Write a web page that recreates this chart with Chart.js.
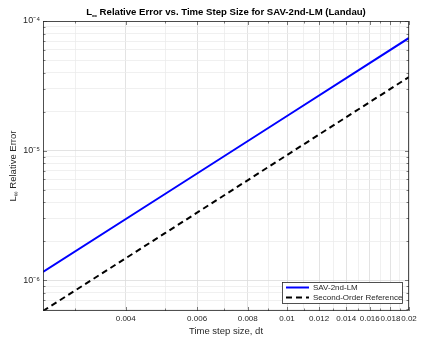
<!DOCTYPE html>
<html>
<head>
<meta charset="utf-8">
<script src="https://cdn.jsdelivr.net/npm/chart.js@4"></script>
<style>
  html, body { margin: 0; padding: 0; background: #fff; }
  #wrap { width: 423px; height: 339px; }
</style>
</head>
<body>
<div id="wrap"><canvas id="errChart"></canvas></div>
<script>
// time step sizes and errors
const dtValues = [0.0025, 0.005, 0.01, 0.02];
const savErrors = [1.16e-6, 4.63e-6, 1.85e-5, 7.4e-5];
const refErrors = [5.8e-7, 2.31e-6, 9.25e-6, 3.7e-5];

const seriesNames = ['SAV-2nd-LM', 'Second-Order Reference'];

// tick labels
const xMajorTicks = [0.004, 0.006, 0.008, 0.01, 0.012, 0.014, 0.016, 0.018, 0.02];
const xTickLabels = ['0.004', '0.006', '0.008', '0.01', '0.012', '0.014', '0.016', '0.018', '0.02'];
const xMinorTicks = [0.003, 0.005, 0.007, 0.009, 0.011, 0.013, 0.015, 0.017, 0.019];
const yMajorTicks = [1e-6, 1e-5, 1e-4];
const yTickLabels = ['10\u207B\u2076', '10\u207B\u2075', '10\u207B\u2074'];
const yMinorTicks = [6e-7, 7e-7, 8e-7, 9e-7,
    2e-6, 3e-6, 4e-6, 5e-6, 6e-6, 7e-6, 8e-6, 9e-6,
    2e-5, 3e-5, 4e-5, 5e-5, 6e-5, 7e-5, 8e-5, 9e-5];

const titleParts = ['L', '\u221E', ' Relative Error vs. Time Step Size for SAV-2nd-LM (Landau)'];
const yLabelParts = ['L', '\u221E', ' Relative Error'];

const FONT = '"Liberation Sans", Arial, Helvetica, sans-serif';
const TXT = '#262626';

function isMajor(list, v) {
    return list.some(m => Math.abs(m - v) / m < 1e-6);
}

function tickSet(major, minor) {
    return major.concat(minor).sort((a, b) => a - b).map(v => ({ value: v }));
}

// draws "L", a subscript infinity and the rest of the text, centred on cx
function drawSubText(ctx, parts, cx, cy, size, weight, color) {
    const big = weight + ' ' + size + 'px ' + FONT;
    const small = weight + ' ' + (size * 0.72).toFixed(1) + 'px ' + FONT;
    ctx.font = big;
    const w0 = ctx.measureText(parts[0]).width;
    const w2 = ctx.measureText(parts[2]).width;
    ctx.font = small;
    const w1 = ctx.measureText(parts[1]).width;
    let x = cx - (w0 + w1 + w2) / 2;
    ctx.fillStyle = color;
    ctx.textBaseline = 'middle';
    ctx.textAlign = 'left';
    ctx.font = big;
    ctx.fillText(parts[0], x, cy);
    x += w0;
    ctx.font = small;
    ctx.fillText(parts[1], x, cy + size * 0.38);
    x += w1;
    ctx.font = big;
    ctx.fillText(parts[2], x, cy);
}

// box around the axes with inward ticks, plus title and y label
const boxPlugin = {
    id: 'boxPlugin',
    afterDatasetsDraw(chart) {
        const { ctx, chartArea: a, scales } = chart;
        ctx.save();
        ctx.strokeStyle = TXT;
        ctx.lineWidth = 0.6;
        ctx.beginPath();
        scales.x.ticks.forEach(t => {
            const px = Math.round(scales.x.getPixelForValue(t.value)) + 0.5;
            const len = isMajor(xMajorTicks, t.value) ? 4 : 2.5;
            ctx.moveTo(px, a.bottom); ctx.lineTo(px, a.bottom - len);
            ctx.moveTo(px, a.top); ctx.lineTo(px, a.top + len);
        });
        scales.y.ticks.forEach(t => {
            const py = Math.round(scales.y.getPixelForValue(t.value)) + 0.5;
            const len = isMajor(yMajorTicks, t.value) ? 4 : 2.5;
            ctx.moveTo(a.left, py); ctx.lineTo(a.left + len, py);
            ctx.moveTo(a.right, py); ctx.lineTo(a.right - len, py);
        });
        ctx.stroke();
        ctx.lineWidth = 0.8;
        ctx.strokeRect(a.left + 0.5, a.top + 0.5, a.right - a.left - 1, a.bottom - a.top - 1);

        drawSubText(ctx, titleParts, (a.left + a.right) / 2, 12, 9.6, 'bold', '#000');

        ctx.translate(13, (a.top + a.bottom) / 2);
        ctx.rotate(-Math.PI / 2);
        drawSubText(ctx, yLabelParts, 0, 0, 9.5, 'normal', TXT);
        ctx.restore();
    }
};

// legend box in the lower right corner of the axes
const legendBox = {
    id: 'legendBox',
    afterDraw(chart) {
        const { ctx, chartArea: a } = chart;
        const w = 120, h = 21;
        const x = a.right - 7 - w, y = a.bottom - 8 - h;
        ctx.save();
        ctx.fillStyle = '#fff';
        ctx.fillRect(x, y, w, h);
        ctx.strokeStyle = TXT;
        ctx.lineWidth = 0.8;
        ctx.strokeRect(x + 0.5, y + 0.5, w, h);
        ctx.font = '8px ' + FONT;
        ctx.textBaseline = 'middle';
        chart.data.datasets.forEach((ds, i) => {
            const ly = y + 5.5 + i * 10;
            ctx.strokeStyle = ds.borderColor;
            ctx.lineWidth = ds.borderWidth;
            ctx.setLineDash(ds.borderDash || []);
            ctx.beginPath();
            ctx.moveTo(x + 4, ly);
            ctx.lineTo(x + 27, ly);
            ctx.stroke();
            ctx.setLineDash([]);
            ctx.fillStyle = TXT;
            ctx.fillText(ds.label, x + 31, ly + 0.5);
        });
        ctx.restore();
    }
};

new Chart(document.getElementById('errChart'), {
    type: 'line',
    data: {
        datasets: [{
            label: seriesNames[0],
            data: dtValues.map((d, i) => ({ x: d, y: savErrors[i] })),
            borderColor: '#0000ff',
            borderWidth: 2,
            pointRadius: 0,
            tension: 0
        }, {
            label: seriesNames[1],
            data: dtValues.map((d, i) => ({ x: d, y: refErrors[i] })),
            borderColor: '#000000',
            borderWidth: 2,
            borderDash: [6, 4],
            pointRadius: 0,
            tension: 0
        }]
    },
    options: {
        responsive: true,
        maintainAspectRatio: false,
        animation: false,
        layout: { padding: { left: 4, right: 14, top: 21, bottom: 2 } },
        plugins: {
            legend: { display: false },
            tooltip: { enabled: false },
            title: { display: false }
        },
        scales: {
            x: {
                type: 'logarithmic',
                min: 0.0025,
                max: 0.02,
                afterBuildTicks: s => { s.ticks = tickSet(xMajorTicks, xMinorTicks); },
                afterFit: s => { s.height = 26; },
                ticks: {
                    autoSkip: false,
                    maxRotation: 0,
                    padding: 3,
                    color: TXT,
                    font: { family: FONT, size: 8 },
                    callback: v => {
                        const i = xMajorTicks.findIndex(m => Math.abs(m - v) / m < 1e-6);
                        return i >= 0 ? xTickLabels[i] : '';
                    }
                },
                grid: {
                    drawTicks: false,
                    color: c => isMajor(xMajorTicks, c.tick.value) ? '#dcdcdc' : '#ececec',
                    lineWidth: 0.8
                },
                border: { display: false },
                title: {
                    display: true,
                    text: 'Time step size, dt',
                    color: TXT,
                    font: { family: FONT, size: 9.5 },
                    padding: { top: 0, bottom: 0 }
                }
            },
            y: {
                type: 'logarithmic',
                min: 5.8e-7,
                max: 1e-4,
                afterBuildTicks: s => { s.ticks = tickSet(yMajorTicks, yMinorTicks); },
                afterFit: s => { s.width = 39; },
                ticks: {
                    autoSkip: false,
                    padding: 3,
                    color: TXT,
                    font: { family: FONT, size: 9 },
                    callback: v => {
                        const i = yMajorTicks.findIndex(m => Math.abs(m - v) / m < 1e-6);
                        return i >= 0 ? yTickLabels[i] : '';
                    }
                },
                grid: {
                    drawTicks: false,
                    color: c => isMajor(yMajorTicks, c.tick.value) ? '#dcdcdc' : '#ececec',
                    lineWidth: 0.8
                },
                border: { display: false }
            }
        }
    },
    plugins: [boxPlugin, legendBox]
});
</script>
</body>
</html>
